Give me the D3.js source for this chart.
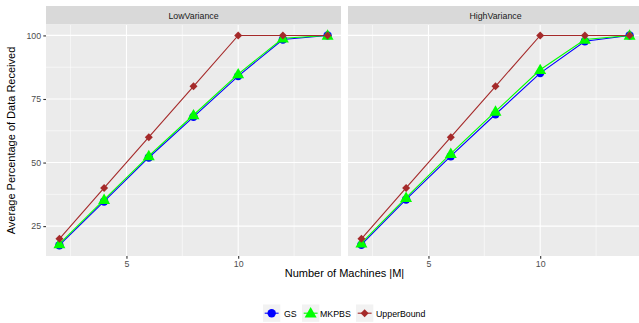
<!DOCTYPE html>
<html><head><meta charset="utf-8">
<script src="https://cdn.jsdelivr.net/npm/d3@7"></script>
<style>body{margin:0;background:#fff}svg{display:block;font-family:"Liberation Sans",Arial,sans-serif}</style>
</head><body><svg id="c" width="639" height="323"></svg>
<script>
const machines = [2, 4, 6, 8, 10, 12, 14];
const panels = ["LowVariance", "HighVariance"];
const seriesNames = ["GS", "MKPBS", "UpperBound"];
const lowGS = [17.5, 34.7, 52.0, 68.0, 84.0, 98.4, 100];
const lowMKPBS = [18.0, 35.4, 52.6, 68.7, 84.8, 98.9, 100];
const lowUpper = [20, 40, 60, 80, 100, 100, 100];
const highGS = [17.7, 35.5, 52.5, 69.0, 85.2, 97.7, 100];
const highMKPBS = [18.3, 36.2, 53.5, 70.1, 86.5, 98.4, 100];
const highUpper = [20, 40, 60, 80, 100, 100, 100];
const xTicks = [5, 10];
const yTicks = [25, 50, 75, 100];
const colors = {GS: "#0000FF", MKPBS: "#00FF00", UpperBound: "#A52A2A"};
const data = {
  LowVariance: {GS: lowGS, MKPBS: lowMKPBS, UpperBound: lowUpper},
  HighVariance: {GS: highGS, MKPBS: highMKPBS, UpperBound: highUpper}
};

const svg = d3.select("#c");
const panelW = 295, panelTop = 25, panelBottom = 256, stripTop = 6;
const panelX = [46, 348];
const x = d3.scaleLinear().domain([1.4, 14.6]).range([0, panelW]);
const y = d3.scaleLinear().domain([13.25, 104.1]).range([panelBottom, panelTop]);

function marker(g, name, cx, cy) {
  const c = colors[name];
  if (name === "GS") {
    g.append("circle").attr("cx", cx).attr("cy", cy).attr("r", 4.2).attr("fill", c);
  } else if (name === "MKPBS") {
    const s = d3.symbol().type(d3.symbolTriangle).size(62)();
    g.append("path").attr("d", s).attr("transform", `translate(${cx},${cy + 0.8})`).attr("fill", c);
  } else {
    const r = 4.0;
    g.append("path").attr("d", `M0,${-r}L${r},0L0,${r}L${-r},0Z`).attr("transform", `translate(${cx},${cy})`).attr("fill", c);
  }
}

panels.forEach((p, i) => {
  const g = svg.append("g").attr("transform", `translate(${panelX[i]},0)`);
  g.append("rect").attr("x", 0).attr("y", stripTop).attr("width", panelW).attr("height", panelTop - stripTop - 0.5).attr("fill", "#D9D9D9");
  g.append("text").attr("x", panelW / 2).attr("y", (stripTop + panelTop) / 2 + 3).attr("text-anchor", "middle")
    .attr("font-size", 8.8).attr("fill", "#1A1A1A").text(p);
  g.append("rect").attr("x", 0).attr("y", panelTop).attr("width", panelW).attr("height", panelBottom - panelTop).attr("fill", "#EBEBEB");
  const minorX = [2.5, 7.5, 12.5], minorY = [37.5, 62.5, 87.5];
  minorX.forEach(v => g.append("line").attr("x1", x(v)).attr("x2", x(v)).attr("y1", panelTop).attr("y2", panelBottom).attr("stroke", "#fff").attr("stroke-width", 0.55));
  minorY.forEach(v => g.append("line").attr("x1", 0).attr("x2", panelW).attr("y1", y(v)).attr("y2", y(v)).attr("stroke", "#fff").attr("stroke-width", 0.55));
  xTicks.forEach(v => g.append("line").attr("x1", x(v)).attr("x2", x(v)).attr("y1", panelTop).attr("y2", panelBottom).attr("stroke", "#fff").attr("stroke-width", 1.1));
  yTicks.forEach(v => g.append("line").attr("x1", 0).attr("x2", panelW).attr("y1", y(v)).attr("y2", y(v)).attr("stroke", "#fff").attr("stroke-width", 1.1));
  const xa = g.append("g").attr("transform", `translate(0,${panelBottom})`)
    .call(d3.axisBottom(x).tickValues(xTicks).tickSize(2.7).tickPadding(2.2).tickFormat(d3.format("d")));
  xa.select(".domain").remove();
  xa.selectAll("line").attr("stroke", "#333").attr("stroke-width", 1.1);
  xa.selectAll("text").attr("font-size", 8.8).attr("fill", "#4D4D4D").attr("font-family", "Liberation Sans, Arial, sans-serif");
  if (i === 0) {
    const ya = g.append("g").call(d3.axisLeft(y).tickValues(yTicks).tickSize(2.7).tickPadding(2.2).tickFormat(d3.format("d")));
    ya.select(".domain").remove();
    ya.selectAll("line").attr("stroke", "#333").attr("stroke-width", 1.1);
    ya.selectAll("text").attr("font-size", 8.8).attr("fill", "#4D4D4D").attr("font-family", "Liberation Sans, Arial, sans-serif");
  }
  const line = d3.line().x((d, j) => x(machines[j])).y(d => y(d));
  seriesNames.forEach(s => {
    g.append("path").datum(data[p][s]).attr("d", line).attr("fill", "none").attr("stroke", colors[s]).attr("stroke-width", 1.1);
  });
  seriesNames.forEach(s => {
    data[p][s].forEach((v, j) => marker(g, s, x(machines[j]), y(v)));
  });
});

svg.append("text").attr("x", 344.5).attr("y", 277).attr("text-anchor", "middle").attr("font-size", 11).attr("fill", "#000").text("Number of Machines |M|");
svg.append("text").attr("transform", "translate(15,140.5) rotate(-90)").attr("text-anchor", "middle").attr("font-size", 11).attr("fill", "#000").text("Average Percentage of Data Received");

const legX = [263, 302, 356];
const legTextX = [284, 320, 376];
const leg = svg.append("g");
seriesNames.forEach((s, i) => {
  leg.append("rect").attr("x", legX[i]).attr("y", 304.5).attr("width", 17.3).attr("height", 17.3).attr("fill", "#F2F2F2");
  leg.append("line").attr("x1", legX[i] + 1.7).attr("x2", legX[i] + 15.6).attr("y1", 313.2).attr("y2", 313.2).attr("stroke", colors[s]).attr("stroke-width", 1.1);
  marker(leg, s, legX[i] + 8.65, 313.2);
  leg.append("text").attr("x", legTextX[i]).attr("y", 316.5).attr("font-size", 8.8).attr("fill", "#000").text(s);
});
</script></body></html>
